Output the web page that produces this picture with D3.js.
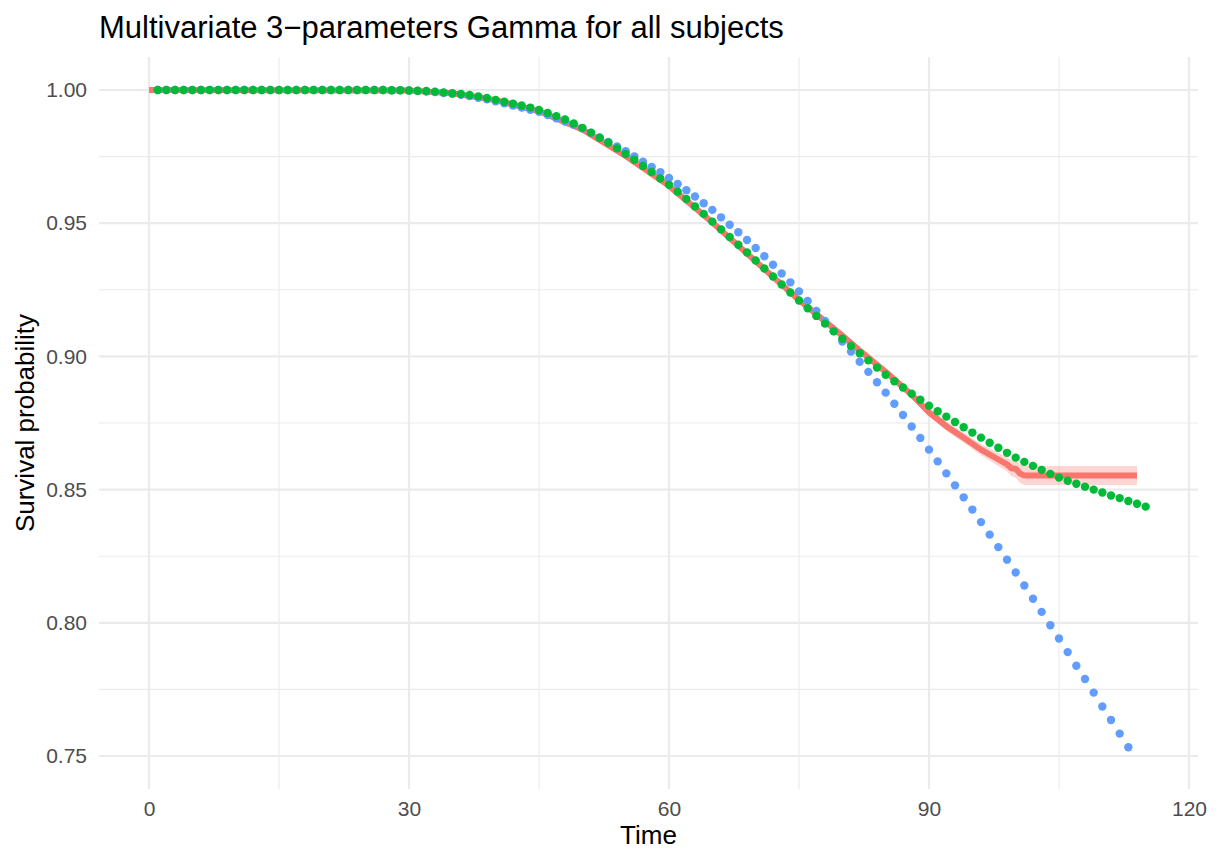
<!DOCTYPE html>
<html>
<head>
<meta charset="utf-8">
<script src="https://cdn.jsdelivr.net/npm/d3@7"></script>
<style>
  html, body { margin: 0; padding: 0; background: #ffffff; }
  svg { display: block; font-family: "Liberation Sans", Arial, sans-serif; }
</style>
</head>
<body>
<svg id="chart" width="1219" height="852"></svg>
<script>
// Kaplan-Meier estimate with confidence band
const kmTime  = [0, 30, 35, 40, 45, 50, 55, 60, 65, 70, 75, 80, 82, 85, 88, 90, 92, 94, 96, 98, 99, 99.5, 100, 100.5, 101, 114];
const kmSurv  = [1.0, 0.9998, 0.9988, 0.9962, 0.9920, 0.9852, 0.9752, 0.9640, 0.9503, 0.9357, 0.9212, 0.9078, 0.9022, 0.8942, 0.8856, 0.8790, 0.8738, 0.8695, 0.8650, 0.8613, 0.8595, 0.8580, 0.8578, 0.8560, 0.8553, 0.8553];
const kmLower = [1.0, 0.9997, 0.9986, 0.9959, 0.9916, 0.9847, 0.9746, 0.9633, 0.9495, 0.9348, 0.9202, 0.9067, 0.9010, 0.8929, 0.8842, 0.8775, 0.8721, 0.8676, 0.8629, 0.8589, 0.8569, 0.8550, 0.8545, 0.8525, 0.8517, 0.8517];
const kmUpper = [1.0, 0.9999, 0.9990, 0.9965, 0.9924, 0.9857, 0.9758, 0.9647, 0.9511, 0.9366, 0.9222, 0.9089, 0.9034, 0.8955, 0.8870, 0.8805, 0.8755, 0.8714, 0.8671, 0.8637, 0.8621, 0.8610, 0.8611, 0.8595, 0.8589, 0.8589];

// Fitted model A (blue), times 1..113
const blueSurv = [
  1.0000, 1.0000, 1.0000, 1.0000, 1.0000, 1.0000, 1.0000, 1.0000, 1.0000, 1.0000,
  1.0000, 1.0000, 1.0000, 1.0000, 1.0000, 1.0000, 1.0000, 1.0000, 1.0000, 1.0000,
  1.0000, 1.0000, 1.0000, 1.0000, 1.0000, 1.0000, 1.0000, 0.9999, 0.9999, 0.9998,
  0.9996, 0.9994, 0.9992, 0.9989, 0.9986, 0.9982, 0.9977, 0.9971, 0.9965, 0.9958,
  0.9950, 0.9942, 0.9934, 0.9926, 0.9918, 0.9906, 0.9894, 0.9882, 0.9869, 0.9856,
  0.9839, 0.9822, 0.9805, 0.9788, 0.9770, 0.9751, 0.9731, 0.9711, 0.9691, 0.9670,
  0.9647, 0.9624, 0.9600, 0.9575, 0.9550, 0.9522, 0.9494, 0.9466, 0.9437, 0.9407,
  0.9376, 0.9344, 0.9311, 0.9278, 0.9244, 0.9208, 0.9171, 0.9133, 0.9095, 0.9056,
  0.9018, 0.8980, 0.8942, 0.8903, 0.8864, 0.8822, 0.8780, 0.8737, 0.8694, 0.8650,
  0.8606, 0.8561, 0.8516, 0.8471, 0.8425, 0.8378, 0.8331, 0.8284, 0.8237, 0.8189,
  0.8140, 0.8090, 0.8041, 0.7991, 0.7941, 0.7890, 0.7839, 0.7789, 0.7738, 0.7686,
  0.7635, 0.7584, 0.7533
];

// Multivariate 3-parameter Gamma fit (green), times 1..115
const greenSurv = [
  1.0000, 1.0000, 1.0000, 1.0000, 1.0000, 1.0000, 1.0000, 1.0000, 1.0000, 1.0000,
  1.0000, 1.0000, 1.0000, 1.0000, 1.0000, 1.0000, 1.0000, 1.0000, 1.0000, 1.0000,
  1.0000, 1.0000, 1.0000, 1.0000, 1.0000, 1.0000, 1.0000, 0.9999, 0.9999, 0.9998,
  0.9997, 0.9996, 0.9994, 0.9991, 0.9988, 0.9985, 0.9981, 0.9976, 0.9970, 0.9963,
  0.9956, 0.9949, 0.9942, 0.9934, 0.9925, 0.9914, 0.9902, 0.9889, 0.9874, 0.9858,
  0.9840, 0.9821, 0.9802, 0.9781, 0.9760, 0.9738, 0.9715, 0.9692, 0.9668, 0.9644,
  0.9618, 0.9591, 0.9563, 0.9535, 0.9506, 0.9477, 0.9448, 0.9419, 0.9390, 0.9360,
  0.9330, 0.9300, 0.9270, 0.9240, 0.9210, 0.9181, 0.9152, 0.9123, 0.9094, 0.9066,
  0.9039, 0.9012, 0.8985, 0.8958, 0.8931, 0.8907, 0.8883, 0.8860, 0.8837, 0.8815,
  0.8794, 0.8774, 0.8754, 0.8734, 0.8714, 0.8695, 0.8676, 0.8657, 0.8638, 0.8620,
  0.8604, 0.8589, 0.8574, 0.8559, 0.8545, 0.8533, 0.8522, 0.8511, 0.8500, 0.8489,
  0.8478, 0.8468, 0.8457, 0.8447, 0.8436
];

const xTicks = [0, 30, 60, 90, 120];
const xMinor = [15, 45, 75, 105];
const yTicks = [0.75, 0.80, 0.85, 0.90, 0.95, 1.00];
const yMinor = [0.775, 0.825, 0.875, 0.925, 0.975];

const titleText = "Multivariate 3\u2212parameters Gamma for all subjects";
const xLabel = "Time";
const yLabel = "Survival probability";

const colKM = "#F8766D", colBlue = "#619CFF", colGreen = "#00BA38";

const panel = { left: 99, right: 1198, top: 57, bottom: 789 };

const x = d3.scaleLinear().domain([0, 120]).range([149, 1189]);
const y = d3.scaleLinear().domain([0.75, 1.0]).range([756, 90]);

const svg = d3.select("#chart");

// grid
const grid = svg.append("g");
grid.selectAll(".xminor").data(xMinor).join("line")
  .attr("x1", d => x(d)).attr("x2", d => x(d))
  .attr("y1", panel.top).attr("y2", panel.bottom)
  .attr("stroke", "#EBEBEB").attr("stroke-width", 1.1);
grid.selectAll(".yminor").data(yMinor).join("line")
  .attr("y1", d => y(d)).attr("y2", d => y(d))
  .attr("x1", panel.left).attr("x2", panel.right)
  .attr("stroke", "#EBEBEB").attr("stroke-width", 1.1);
grid.selectAll(".xmajor").data(xTicks).join("line")
  .attr("x1", d => x(d)).attr("x2", d => x(d))
  .attr("y1", panel.top).attr("y2", panel.bottom)
  .attr("stroke", "#EBEBEB").attr("stroke-width", 2.2);
grid.selectAll(".ymajor").data(yTicks).join("line")
  .attr("y1", d => y(d)).attr("y2", d => y(d))
  .attr("x1", panel.left).attr("x2", panel.right)
  .attr("stroke", "#EBEBEB").attr("stroke-width", 2.2);

// axes (labels only, ggplot minimal style)
const xAxis = d3.axisBottom(x).tickValues(xTicks).tickSize(0).tickPadding(0).tickFormat(d3.format("d"));
const gx = svg.append("g").attr("transform", `translate(0, 801)`).call(xAxis);
gx.select(".domain").remove();
gx.selectAll("text").attr("dy", "0.71em").attr("y", 0)
  .attr("fill", "#4D4D4D").style("font-size", "21px").style("font-family", "Liberation Sans, Arial, sans-serif");

const yAxis = d3.axisLeft(y).tickValues(yTicks).tickSize(0).tickPadding(0).tickFormat(d3.format(".2f"));
const gy = svg.append("g").attr("transform", `translate(87, 0)`).call(yAxis);
gy.select(".domain").remove();
gy.selectAll("text").attr("x", 0)
  .attr("fill", "#4D4D4D").style("font-size", "21px").style("font-family", "Liberation Sans, Arial, sans-serif");

// KM band and line
const kmData = kmTime.map((t, i) => ({ t, s: kmSurv[i], lo: kmLower[i], hi: kmUpper[i] }));
svg.append("path").datum(kmData)
  .attr("d", d3.area().x(d => x(d.t)).y0(d => y(d.lo)).y1(d => y(d.hi)))
  .attr("fill", colKM).attr("fill-opacity", 0.3);
svg.append("path").datum(kmData)
  .attr("d", d3.line().x(d => x(d.t)).y(d => y(d.s)))
  .attr("fill", "none").attr("stroke", colKM).attr("stroke-width", 6)
  .attr("stroke-linejoin", "round").attr("stroke-linecap", "butt");

// fitted curves as points
svg.append("g").selectAll("circle").data(blueSurv).join("circle")
  .attr("cx", (d, i) => x(i + 1)).attr("cy", d => y(d)).attr("r", 4.2)
  .attr("fill", colBlue);
svg.append("g").selectAll("circle").data(greenSurv).join("circle")
  .attr("cx", (d, i) => x(i + 1)).attr("cy", d => y(d)).attr("r", 4.2)
  .attr("fill", colGreen);

// titles
svg.append("text").attr("x", 99).attr("y", 38)
  .style("font-size", "31px").attr("fill", "#000").text(titleText);
svg.append("text").attr("x", (panel.left + panel.right) / 2).attr("y", 844)
  .attr("text-anchor", "middle").style("font-size", "26px").attr("fill", "#000").text(xLabel);
svg.append("text").attr("transform", `translate(34, ${(panel.top + panel.bottom) / 2}) rotate(-90)`)
  .attr("text-anchor", "middle").style("font-size", "26px").attr("fill", "#000").text(yLabel);
</script>
</body>
</html>
